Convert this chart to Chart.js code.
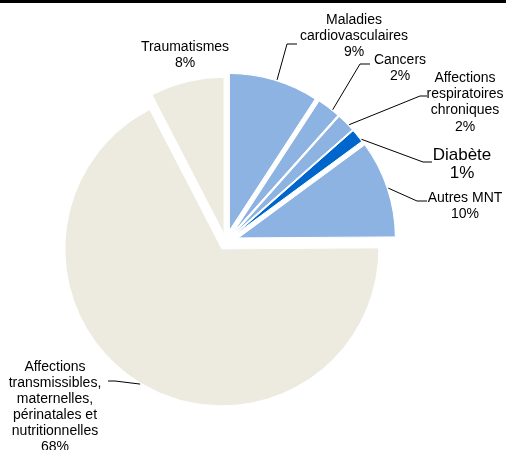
<!DOCTYPE html>
<html>
<head>
<meta charset="utf-8">
<script src="https://cdn.jsdelivr.net/npm/chart.js@4.4.0/dist/chart.umd.min.js"></script>
<style>
  html, body { margin: 0; padding: 0; background: #fff; }
  #wrap { width: 506px; height: 450px; position: relative; }
</style>
</head>
<body>
<div id="wrap"><canvas id="myChart"></canvas></div>
<script>
// slices, clockwise from 12 o'clock
var categories = ['Maladies cardiovasculaires', 'Cancers', 'Affections respiratoires chroniques', 'Diabète', 'Autres MNT', 'Affections transmissibles, maternelles, périnatales et nutritionnelles', 'Traumatismes'];
var shares = [9.2, 2.4, 1.9, 1.4, 10.0, 67.5, 7.6];
// how the category names are broken over lines in the labels
var labelLines = [
  ['Maladies', 'cardiovasculaires'],
  ['Cancers'],
  ['Affections', 'respiratoires', 'chroniques'],
  ['Diabète'],
  ['Autres MNT'],
  ['Affections', 'transmissibles,', 'maternelles,', 'périnatales et', 'nutritionnelles'],
  ['Traumatismes']
];

var sliceColors = ['#8db3e2', '#8db3e2', '#8db3e2', '#0066cc', '#8db3e2', '#edebe0', '#edebe0'];
var explode = [12, 12, 12, 12, 13, 8, 8];

// label placement: centre x, first line centre y, font size, line height
var labelX = [354, 400, 465, 462, 465, 55, 185];
var labelY = [20, 60, 78, 155, 198, 367, 47];
var labelSize = [14, 14, 14, 17, 14, 14, 14];
var labelLH = [16, 16, 16.3, 18, 16, 16, 16];
// leader lines: where on the slice they start (fraction of the slice angle), then elbow and end
var leaderFrac = [0.53, 0.68, 0.69, 0.86, 0.5, 0.5, null];
var leaderPts = [
  [[287, 44], [297, 44]],
  [[360, 64], [370, 64]],
  [[420, 96], [427, 96]],
  [[423, 162], [432, 162]],
  [[417, 201], [427, 201]],
  [[115, 381], [108, 381]],
  null
];

var explodePlugin = {
  id: 'explode',
  beforeDatasetDraw: function(chart, args) {
    var ctx = chart.ctx;
    args.meta.data.forEach(function(arc, i) {
      var mid = (arc.startAngle + arc.endAngle) / 2;
      ctx.save();
      ctx.translate(Math.cos(mid) * explode[i], Math.sin(mid) * explode[i]);
      arc.draw(ctx);
      ctx.restore();
    });
    return false;
  }
};

var labelPlugin = {
  id: 'pieLabels',
  beforeDraw: function(chart) {
    var ctx = chart.ctx;
    ctx.save();
    ctx.fillStyle = '#000';
    ctx.fillRect(0, 0, chart.width, 3);
    ctx.restore();
  },
  afterDraw: function(chart) {
    var ctx = chart.ctx;
    var arcs = chart.getDatasetMeta(0).data;
    ctx.save();
    ctx.strokeStyle = '#000';
    ctx.lineWidth = 1;
    arcs.forEach(function(arc, i) {
      if (leaderFrac[i] === null) return;
      var mid = (arc.startAngle + arc.endAngle) / 2;
      var a = arc.startAngle + leaderFrac[i] * (arc.endAngle - arc.startAngle);
      var x0 = arc.x + Math.cos(mid) * explode[i] + Math.cos(a) * (arc.outerRadius + 1);
      var y0 = arc.y + Math.sin(mid) * explode[i] + Math.sin(a) * (arc.outerRadius + 1);
      ctx.beginPath();
      ctx.moveTo(x0, y0);
      leaderPts[i].forEach(function(p) { ctx.lineTo(p[0], p[1]); });
      ctx.stroke();
    });

    ctx.fillStyle = '#000';
    ctx.textAlign = 'center';
    ctx.textBaseline = 'middle';
    labelLines.forEach(function(lines, i) {
      ctx.font = labelSize[i] + 'px "Liberation Sans", Arial, sans-serif';
      var all = lines.concat([Math.round(shares[i]) + '%']);
      all.forEach(function(t, k) {
        ctx.fillText(t, labelX[i], labelY[i] + k * labelLH[i]);
      });
    });
    ctx.restore();
  }
};

var ctx = document.getElementById('myChart').getContext('2d');
var pie_chart = new Chart(ctx, {
  type: 'pie',
  data: {
    labels: categories,
    datasets: [{
      data: shares,
      backgroundColor: sliceColors,
      borderColor: '#ffffff',
      borderWidth: 1
    }]
  },
  options: {
    responsive: true,
    maintainAspectRatio: false,
    animation: false,
    radius: 157,
    layout: { padding: { left: 56, right: 110, top: 60, bottom: 26 } },
    plugins: {
      legend: { display: false },
      tooltip: { enabled: false }
    }
  },
  plugins: [explodePlugin, labelPlugin]
});
</script>
</body>
</html>
